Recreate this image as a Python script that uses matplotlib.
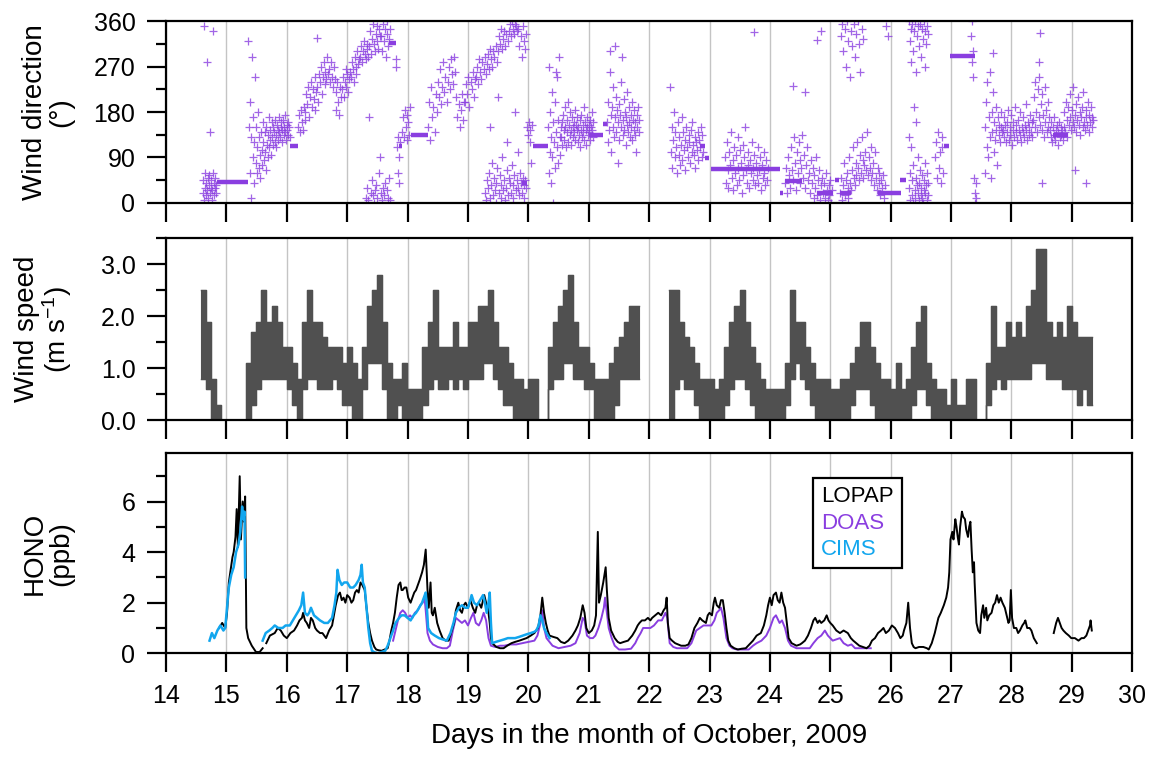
import numpy as np
import matplotlib
matplotlib.use("Agg")
import matplotlib.pyplot as plt
from matplotlib.ticker import MultipleLocator

plt.rcParams['font.family'] = ['Liberation Sans', 'DejaVu Sans']
plt.rcParams['mathtext.fontset'] = 'custom'
plt.rcParams['mathtext.rm'] = 'Liberation Sans'
plt.rcParams['mathtext.default'] = 'regular'

PURPLE = '#8a3ee0'
BLUE = '#12a6ee'
GREY = '#505050'

# ---------------- wind direction (deg), scatter segments: (start day, end day, values)
wd_a = [20, 45, 5, 350, 30, 60, 15, 40, 280, 25, 50, 10, 35, 55, 20, 140, 30, 45, 5, 25,
        60, 340, 15, 40, 30, 50, 20, 35]
wd_b = [320, 150, 60, 200, 10, 130, 290, 90, 170, 40, 120, 250, 80, 150, 60, 110, 180, 70, 130, 95,
        50, 140, 105, 75, 160, 120, 85, 140, 100, 65, 150, 115, 90, 135, 170, 110, 125, 145, 95, 160,
        130, 115, 150, 140, 120, 165, 135, 110, 155, 145, 125, 170, 140, 130, 160, 150, 120, 145, 165, 135,
        150, 175, 140, 125, 155, 145, 160, 135, 150, 130]
wd_c = [150, 175, 140, 185, 160, 145, 190, 165,
        180, 215, 195, 230, 170, 210, 240, 190, 225, 205, 250, 185, 220,
        230, 200, 255, 240, 270, 215, 250, 280, 235, 260, 245, 290, 255,
        265, 240, 280, 250, 230, 270, 245,
        220, 185, 240, 200, 175, 230, 210,
        225, 250, 210, 240, 265, 230, 255, 220, 245, 260,
        250, 280, 265, 240, 290, 270, 255, 300, 275, 285,
        290, 310, 280, 300, 320, 295, 285, 315, 305, 290,
        310, 340, 295, 325, 355, 315, 300, 335, 350, 320, 305, 345, 330,
        330, 300, 355, 320, 345, 290, 335, 360, 310, 325, 345]
wd_w1 = [10, 30, 5, 170, 20, 45, 15, 0, 25, 35, 10, 60, 90, 20, 5, 30, 15, 40, 25, 10, 50, 5]
wd_d = [270, 285, 110, 60, 130, 40, 90, 120]
wd_e = [140, 170, 130, 185, 150, 125, 175, 160, 135, 190]
wd_f = [150, 200, 125, 230, 170, 190, 140, 215,
        180, 240, 210, 265, 195, 230, 280, 220, 250, 200,
        240, 270, 225, 285, 255, 235, 290, 260,
        210, 170, 195, 150, 185, 215, 165, 200,
        200, 235, 215, 250, 190, 240, 225, 260, 210, 245,
        250, 270, 235, 285, 260, 245, 280, 265, 290, 255,
        275, 295, 265, 305, 285, 270, 300, 290, 310, 280,
        300, 330, 315, 345, 305, 325, 340, 310, 335, 320,
        340, 355, 330, 360, 345, 335, 355, 350, 340,
        345, 310, 330, 290, 350, 320, 305, 335]
wd_w2 = [20, 5, 45, 30, 60, 150, 10, 35, 80, 15, 50, 25, 0, 40, 70, 210, 20, 55, 10, 35,
         90, 25, 45, 5, 30, 65, 120, 15, 50, 40, 20, 75, 10, 35, 55, 180, 25, 45, 100, 30,
         15, 60, 40, 20, 50, 35, 10, 45, 30]
wd_g = [150, 135, 160, 120, 145, 80, 155]
wd_h = [150, 60, 270, 100, 180, 40, 130, 220, 90, 160, 0, 120, 200, 70, 140, 260, 110, 250,
        80, 165, 290, 130, 95, 150]
wd_i = [130, 160, 115, 175, 145, 125, 190, 150, 110, 165, 140, 200, 120, 155, 135, 180, 145, 115,
        170, 150, 130, 160, 140, 185, 125, 155, 145, 170, 120, 150, 135, 165, 110, 145, 175, 130,
        155, 140, 190, 125, 160, 145, 115, 150, 170, 135, 155, 140, 165, 125, 150, 180, 145, 130, 160]
wd_j = [160, 120, 200, 145, 260, 300, 175, 100, 190, 150, 230, 130, 170, 310, 210, 140, 185, 80,
        160, 195, 125, 175, 150, 240, 290, 135, 165, 205, 145, 180, 115, 170, 155, 220, 140, 190,
        160, 130, 175, 150, 200, 125, 165, 145, 185, 135, 160, 100, 175, 150, 190, 140, 165]
wd_k = [230, 100, 150, 70, 125, 180, 90, 140, 110, 60, 160, 95, 130, 75, 115, 170, 85, 140,
        105, 125, 65, 150, 110, 90, 135, 120, 80, 145, 100, 160, 115, 95, 130, 70, 120, 105,
        140, 85, 125, 110, 150, 90, 135, 100]
wd_l = [90, 40, 120, 65, 30, 100, 75, 140, 50, 85, 25, 110, 60, 95, 35, 130, 70, 45, 105, 80,
        20, 115, 55, 90, 150, 65, 40, 100, 75, 30, 85, 60, 120, 45, 70, 95, 35, 80, 55, 110,
        40, 65, 90, 25, 75, 50, 100, 60, 35, 85, 45, 70]
wd_m = [40, 70, 20, 90, 55, 30, 110, 65, 45, 130, 80, 25, 100, 60, 120, 40, 85, 70, 135, 50,
        95, 30, 75, 110, 45, 60, 20, 85, 40, 70, 10, 55, 30, 90, 15, 45, 65, 5, 35, 50,
        20, 40, 10, 60, 25, 5, 35, 15, 45, 0, 25]
wd_n = [20, 50, 5, 35, 80, 15, 45, 60, 10, 30, 90, 40, 25, 65, 110, 50, 35, 80, 55, 120,
        70, 45, 95, 60, 130, 85, 50, 75, 100, 65, 140, 55, 90, 70, 45, 110, 60, 80, 35, 100,
        50, 25, 70, 40, 60, 15, 45, 30, 55, 10, 35]
wd_u1 = [330, 355, 300, 345, 270, 360, 320, 250, 340, 310, 355, 290, 335, 360, 315, 260, 345, 325]
wd_o = [30, 130, 5, 60, 110, 15, 45, 0, 75, 190, 25, 10, 50, 160, 35, 90, 20, 5, 40, 65,
        15, 30, 55, 10, 0, 45, 25, 80, 20, 35, 5, 60, 15, 40]
wd_u2 = [360, 320, 345, 280, 355, 300, 340, 360, 260, 330, 350, 310, 355, 290, 345, 325,
         360, 270, 340, 315, 350, 335]
wd_p = [90, 120, 50, 140, 70, 100, 40, 130, 110, 60]
wd_q = [330, 280, 360, 250, 300, 50, 20, 0, 40, 10]
wd_r = [150, 60, 200, 110, 240, 90, 170, 130, 260, 50, 180, 140, 220, 100, 160, 125, 190, 145,
        75, 170, 135, 155, 120, 180, 150, 140]
wd_s = [145, 170, 130, 155, 120, 160, 140, 185, 125, 150, 135, 175, 115, 145, 160, 130, 190, 140,
        155, 125, 165, 145, 135, 180, 120, 150, 140, 170, 130, 155, 145, 195, 125, 160, 135, 150,
        175, 140, 160, 130,
        165, 210, 150, 240, 180, 140, 225, 170, 250, 155, 195, 145, 215, 175, 130, 230, 160, 185,
        140, 200, 150, 170,
        145, 130, 160, 120, 150, 135, 170, 125, 145, 155, 115, 140, 160, 130, 150, 135, 145, 125,
        150, 180, 140, 200, 165, 130, 190, 155, 215, 170, 145, 185, 160, 230, 150, 175, 140, 195,
        165, 210, 155, 180, 135, 170, 190, 150, 220, 160, 145, 185, 170, 155, 200, 140, 175, 160,
        190, 150, 170, 165]

wd_segments = [
    (14.60, 14.84, wd_a), (15.36, 16.05, wd_b), (16.18, 17.72, wd_c), (17.30, 17.72, wd_w1),
    (17.80, 17.88, wd_d), (17.90, 18.05, wd_e), (18.33, 19.97, wd_f), (19.28, 19.97, wd_w2),
    (19.97, 20.07, wd_g), (20.32, 20.54, wd_h), (20.54, 21.08, wd_i), (21.30, 21.84, wd_j),
    (22.34, 22.90, wd_k), (23.25, 23.97, wd_l), (24.25, 25.04, wd_m), (25.16, 25.91, wd_n),
    (25.16, 25.55, wd_u1), (26.29, 26.63, wd_o), (26.29, 26.63, wd_u2), (26.73, 26.88, wd_p),
    (27.33, 27.42, wd_q), (27.55, 27.85, wd_r), (27.85, 29.36, wd_s),
]
# isolated points (day, deg)
wd_extra_t = [16.50, 23.73, 24.38, 24.58, 24.78, 24.85, 25.92, 25.95, 28.48, 28.45, 28.50, 29.05, 29.24, 27.70]
wd_extra_v = [327, 338, 232, 220, 322, 340, 350, 330, 337, 280, 40, 65, 39, 297]
# constant runs drawn as thick bars (start day, end day, deg)
wd_bars = [(14.84, 15.36, 42), (16.05, 16.18, 112), (17.70, 17.80, 316), (17.85, 17.90, 112),
           (18.05, 18.33, 135), (19.90, 19.97, 40), (20.07, 20.32, 112), (21.00, 21.24, 135),
           (21.24, 21.30, 157), (22.84, 22.92, 112), (22.92, 22.99, 89), (23.03, 24.16, 67),
           (24.16, 24.22, 20), (24.25, 24.53, 44), (24.78, 25.05, 20), (25.08, 25.15, 45),
           (25.16, 25.35, 20), (25.79, 26.17, 20), (26.16, 26.25, 45), (26.88, 26.97, 112),
           (26.99, 27.39, 292), (28.68, 28.93, 135)]

# ---------------- wind speed (m/s), 2-hourly low/high envelope of the 10-min data
ws1_start = 14.58
ws1_lo = [0.8, 0.6, 0.0, 0.0, 0.0, 0.0, 0.0, 0.0, 0.0,
          0.0, 0.3, 0.6, 0.8, 0.8, 0.8, 0.8, 0.8, 0.6, 0.3, 0.0, 0.6, 0.8, 0.8, 0.6, 0.6,
          0.6, 0.8, 0.6, 0.3, 0.3, 0.0, 0.0, 0.6, 1.1, 1.1, 1.1, 0.6, 0.0, 0.0, 0.3, 0.0,
          0.0, 0.0, 0.0, 0.3, 0.6, 0.8, 0.6, 0.6, 0.8, 0.6, 0.8, 0.6, 0.8, 0.8, 0.8, 1.1,
          1.1, 0.8, 0.6, 0.3, 0.3, 0.0, 0.0, 0.0, 0.0, 0.0, 0.0, 0.0, 0.6, 0.8, 0.8, 1.1,
          1.1, 0.8, 0.8, 0.6, 0.6, 0.0, 0.0, 0.0, 0.0, 0.3, 0.8, 0.8, 0.8, 0.8]
ws1_hi = [2.5, 1.9, 0.8, 0.3, 0.0, 0.0, 0.0, 0.0, 0.0,
          1.1, 1.7, 1.9, 2.5, 1.9, 2.2, 1.9, 1.4, 1.4, 1.1, 0.8, 1.9, 2.5, 1.9, 1.9, 1.6,
          1.4, 1.4, 1.4, 1.1, 1.4, 1.1, 0.8, 1.4, 2.2, 2.5, 2.8, 1.9, 1.1, 0.8, 0.8, 1.1,
          0.6, 0.6, 0.6, 1.4, 1.9, 2.5, 1.4, 1.4, 1.4, 1.9, 1.4, 1.4, 1.9, 1.9, 2.2, 2.2,
          2.5, 1.9, 1.4, 1.4, 1.1, 0.8, 0.8, 0.6, 0.8, 0.8, 0.0, 0.0, 1.4, 1.9, 2.2, 2.5,
          2.8, 1.9, 1.4, 1.4, 1.1, 0.8, 0.8, 0.8, 1.1, 1.4, 1.6, 1.9, 2.2, 2.2]
ws2_start = 22.33
ws2_lo = [0.0, 0.6, 0.8, 0.6, 0.6, 0.3, 0.0, 0.0, 0.0, 0.0, 0.0, 0.3, 0.6, 0.8, 0.8, 0.6,
          0.3, 0.0, 0.0, 0.0, 0.0, 0.0, 0.0, 0.3, 0.8, 1.1, 0.8, 0.6, 0.3, 0.0, 0.0, 0.0,
          0.0, 0.0, 0.0, 0.0, 0.3, 0.6, 0.6, 0.6, 0.3, 0.0, 0.0, 0.0, 0.0, 0.0, 0.0, 0.0,
          0.3, 0.6, 0.6, 0.3, 0.0, 0.0, 0.0, 0.0, 0.0, 0.0, 0.0, 0.0, 0.0, 0.0, 0.0, 0.3,
          0.6, 0.8, 0.6, 0.8, 0.8, 0.8, 0.8, 0.8, 1.1, 1.1, 1.1, 0.8, 0.8, 0.8, 0.6, 0.6,
          0.6, 0.3, 0.6, 0.3]
ws2_hi = [2.5, 2.5, 1.9, 1.6, 1.4, 1.1, 0.8, 0.8, 0.8, 0.6, 0.8, 1.4, 1.9, 2.2, 2.5, 1.9,
          1.4, 1.1, 0.8, 0.6, 0.6, 0.6, 0.6, 1.1, 2.5, 1.9, 1.9, 1.4, 1.1, 0.8, 0.8, 0.8,
          0.6, 0.6, 0.8, 0.8, 1.1, 1.4, 1.9, 1.9, 1.4, 1.1, 0.8, 0.8, 0.6, 1.1, 0.6, 0.8,
          1.4, 1.9, 2.2, 1.1, 0.8, 0.6, 0.6, 0.3, 0.8, 0.3, 0.3, 0.8, 0.8, 0.0, 0.0, 1.1,
          2.2, 1.4, 1.4, 1.9, 1.6, 1.9, 1.6, 2.2, 2.5, 3.3, 3.3, 1.9, 1.6, 1.9, 1.6, 2.2,
          1.9, 1.6, 1.6, 1.6]

# ---------------- HONO (ppb)
lopap_t = [14.88, 14.93, 14.98, 15.01, 15.04, 15.07, 15.10, 15.12, 15.15, 15.17, 15.19, 15.22, 15.24,
           15.27, 15.29, 15.31, 15.33, 15.36, 15.42, 15.49, 15.55, 15.60, np.nan,
           15.66, 15.72, 15.80, 15.85, 15.90, 15.95, 16.00, 16.06, 16.12, 16.17, 16.21, 16.25, 16.27,
           16.30, 16.33, 16.37, 16.40, 16.43, 16.47, 16.50, 16.55, 16.59, 16.62, 16.65, 16.70, 16.75,
           16.78, 16.81, 16.85, 16.88, 16.91, 16.94, 16.97, 17.00, 17.04, 17.07, 17.10, 17.13, 17.16,
           17.19, 17.22, 17.25, 17.29, 17.32, 17.35, 17.38, 17.41, 17.45, 17.48, 17.52, 17.57, 17.62,
           17.67, 17.70, 17.73, 17.76, 17.79, 17.82, 17.85, 17.88, 17.90, 17.92, 17.95, 17.98, 18.01,
           18.05, 18.08, 18.11, 18.14, 18.17, 18.20, 18.24, 18.27, 18.30, 18.32, 18.33, 18.35, 18.38,
           18.40, 18.42, 18.45, 18.49, 18.53, 18.58, 18.63, 18.68, 18.72, 18.77, 18.80, 18.84, 18.87,
           18.90, 18.93, 18.96, 19.00, 19.04, 19.08, 19.12, 19.15, 19.18, 19.22, 19.25, 19.27, 19.30,
           19.33, 19.36, 19.38, 19.40, 19.47, 19.53, 19.59, 19.65, 19.72, 19.78, 19.85, 19.91, 19.97,
           20.04, 20.10, 20.16, 20.20, 20.23, 20.26, 20.29, 20.32, 20.35, 20.41, 20.48, 20.54, 20.60,
           20.66, 20.73, 20.78, 20.82, 20.86, 20.90, 20.93, 20.96, 21.00, 21.05, 21.09, 21.12, 21.15,
           21.17, 21.20, 21.24, 21.28, 21.30, 21.33, 21.37, 21.43, 21.48, 21.52, 21.58, 21.65, 21.72,
           21.77, 21.81, 21.84, 21.88, 21.93, 21.98, 22.02, 22.05, 22.10, 22.15, 22.20, 22.24, 22.27,
           22.29, 22.31, 22.34, 22.38, 22.43, 22.48, 22.53, 22.60, 22.65, 22.70, 22.75, 22.80, 22.84,
           22.88, 22.94, 22.97, 23.00, 23.04, 23.07, 23.09, 23.12, 23.16, 23.19, 23.22, 23.25, 23.28,
           23.31, 23.35, 23.41, 23.47, 23.53, 23.60, 23.66, 23.72, 23.78, 23.85, 23.90, 23.94, 23.97,
           24.00, 24.03, 24.06, 24.10, 24.13, 24.16, 24.19, 24.22, 24.25, 24.28, 24.31, 24.36, 24.44,
           24.50, 24.53, 24.58, 24.63, 24.68, 24.72, 24.75, 24.79, 24.82, 24.85, 24.90, 24.94, 24.97,
           25.00, 25.04, 25.10, 25.16, 25.22, 25.29, 25.34, 25.38, 25.43, 25.48, 25.54, 25.60, 25.65,
           25.69, 25.74, 25.79, 25.84, 25.88, 25.92, 25.97, 26.02, 26.07, 26.12, 26.16, 26.20, 26.22,
           26.26, 26.29, 26.32, 26.35, 26.38, 26.41, 26.47, 26.54, 26.60, 26.63, 26.68, 26.73, 26.76,
           26.79, 26.83, 26.88, 26.92, 26.95, 26.97, 26.99, 27.02, 27.04, 27.07, 27.09, 27.11, 27.13,
           27.15, 27.18, 27.20, 27.23, 27.25, 27.28, 27.30, 27.32, 27.34, 27.36, 27.38, 27.39, 27.42,
           27.45, 27.48, 27.50, 27.53, 27.55, 27.58, 27.60, 27.63, 27.67, 27.70, 27.73, 27.76, 27.79,
           27.82, 27.85, 27.89, 27.92, 27.95, 27.97, 27.99, 28.01, 28.04, 28.08, 28.11, 28.14, 28.18,
           28.21, 28.23, 28.26, 28.30, 28.33, 28.37, 28.42, np.nan,
           28.70, 28.74, 28.77, 28.80, 28.83, 28.86, 28.90, 28.95, 28.99, 29.05, 29.11, 29.16, 29.20,
           29.24, 29.27, 29.30, 29.31, 29.33]
lopap_v = [1.0, 1.2, 1.0, 1.6, 2.8, 3.3, 3.8, 4.0, 4.6, 5.7, 4.2, 7.0, 4.5,
           6.0, 5.2, 6.2, 1.0, 0.6, 0.3, 0.05, 0.05, 0.2, np.nan,
           0.4, 0.7, 0.8, 1.0, 0.9, 0.7, 0.6, 0.8, 0.9, 1.1, 1.3, 1.4, 1.6,
           1.3, 1.2, 1.0, 1.4, 1.3, 1.0, 0.9, 0.8, 0.8, 0.7, 0.6, 0.9, 1.1,
           1.5, 1.9, 2.3, 2.4, 2.1, 2.2, 2.0, 2.3, 2.2, 2.0, 2.1, 2.4, 2.5,
           2.4, 2.8, 2.7, 2.5, 1.8, 1.2, 0.8, 0.5, 0.25, 0.15, 0.12, 0.1, 0.15,
           0.2, 0.5, 0.9, 1.2, 1.6, 2.2, 2.7, 2.8, 2.5, 2.5, 2.6, 2.6, 2.2,
           2.0, 2.2, 2.4, 2.5, 2.7, 2.9, 3.2, 3.5, 4.1, 3.0, 2.5, 1.8, 2.8,
           1.6, 1.5, 1.8, 1.2, 0.9, 0.6, 0.5, 0.5, 0.8, 1.2, 1.7, 2.0, 1.7,
           1.6, 1.9, 2.0, 1.8, 2.1, 1.8, 1.6, 1.9, 2.0, 1.8, 2.1, 2.3, 2.0,
           1.8, 1.2, 0.6, 0.4, 0.25, 0.2, 0.2, 0.3, 0.4, 0.45, 0.5, 0.55, 0.6,
           0.7, 0.8, 1.0, 1.5, 2.2, 1.6, 1.2, 0.9, 0.7, 0.65, 0.6, 0.45, 0.4,
           0.5, 0.7, 0.9, 1.1, 1.4, 1.9, 1.6, 1.0, 0.8, 0.9, 1.1, 1.5, 4.8,
           2.0, 2.3, 2.8, 3.4, 2.5, 1.4, 0.9, 0.6, 0.45, 0.4, 0.45, 0.5, 0.7,
           0.9, 1.1, 1.2, 1.3, 1.3, 1.4, 1.3, 1.4, 1.5, 1.6, 1.5, 1.7, 1.8,
           2.2, 1.2, 0.6, 0.5, 0.4, 0.35, 0.3, 0.3, 0.35, 0.6, 1.0, 1.2, 1.4,
           1.3, 1.2, 1.5, 1.6, 1.5, 2.0, 2.2, 1.9, 1.8, 2.1, 2.1, 1.6, 1.0,
           0.5, 0.3, 0.2, 0.15, 0.18, 0.2, 0.35, 0.5, 0.7, 0.8, 1.1, 1.5, 1.9,
           2.2, 1.9, 2.3, 2.4, 2.1, 2.0, 2.4, 2.0, 1.8, 1.2, 0.6, 0.4, 0.3,
           0.35, 0.4, 0.5, 0.7, 1.0, 1.3, 1.4, 1.2, 1.3, 1.2, 1.3, 1.5, 1.3,
           1.2, 1.1, 0.9, 0.8, 0.9, 0.8, 0.6, 0.5, 0.4, 0.3, 0.25, 0.2, 0.3,
           0.5, 0.6, 0.8, 0.9, 1.0, 0.8, 0.9, 1.1, 1.0, 0.8, 0.6, 0.7, 0.9,
           1.2, 2.0, 1.0, 0.4, 0.25, 0.2, 0.25, 0.25, 0.2, 0.15, 0.4, 0.8, 1.1,
           1.4, 1.6, 1.9, 2.2, 2.6, 3.2, 4.5, 4.8, 4.5, 5.3, 5.0, 4.6, 4.3,
           5.0, 5.6, 5.4, 5.3, 4.9, 4.6, 5.0, 5.2, 4.1, 3.2, 3.6, 2.8, 1.2,
           0.9, 0.8, 1.5, 1.9, 1.4, 1.8, 1.3, 1.5, 1.6, 1.9, 2.0, 2.3, 2.0,
           2.2, 2.0, 1.8, 1.5, 1.2, 1.3, 2.5, 1.4, 1.0, 1.0, 0.8, 0.9, 1.1,
           1.2, 1.3, 1.0, 1.0, 0.9, 0.6, 0.4, np.nan,
           0.8, 1.2, 1.4, 1.2, 1.0, 0.9, 0.8, 0.7, 0.6, 0.6, 0.5, 0.6, 0.6,
           0.7, 0.9, 1.1, 1.3, 0.9]

doas_t = [17.76, 17.80, 17.84, 17.88, 17.92, 17.96, 18.00, 18.04, 18.08, 18.12, 18.17, 18.21, 18.25,
          18.28, 18.30, 18.33, 18.37, 18.42, 18.50, 18.58, 18.65, 18.70, 18.75, 18.80, 18.85, 18.90,
          18.95, 19.00, 19.05, 19.09, 19.13, 19.18, 19.22, 19.26, 19.30, 19.34, 19.38, 19.45, 19.53,
          19.60, 19.70, 19.80, 19.90, 20.00, 20.10, 20.15, 20.20, 20.23, 20.26, 20.30, 20.35, 20.40,
          20.50, 20.60, 20.70, 20.78, 20.85, 20.90, 20.93, 20.97, 21.02, 21.07, 21.11, 21.16, 21.21,
          21.25, 21.27, 21.29, 21.33, 21.38, 21.43, 21.50, 21.60, 21.70, 21.77, 21.81, 21.86, 21.90,
          21.96, 22.02, 22.08, 22.15, 22.21, 22.27, 22.30, 22.34, 22.40, 22.46, 22.55, 22.63, 22.70,
          22.78, 22.84, 22.90, 22.96, 23.03, 23.08, 23.12, 23.16, 23.19, 23.23, 23.28, 23.33, 23.38,
          23.45, 23.55, 23.65, 23.72, 23.78, 23.86, 23.94, 24.00, 24.06, 24.10, 24.16, 24.20, 24.25,
          24.30, 24.35, 24.44, 24.55, 24.66, 24.72, 24.79, 24.85, 24.91, 24.96, 25.04, 25.10, 25.16,
          25.22, 25.29, 25.35, 25.41, 25.50, 25.60, 25.67]
doas_v = [0.5, 0.9, 1.3, 1.6, 1.7, 1.6, 1.4, 1.5, 1.4, 1.6, 1.7, 1.9, 2.0,
          2.2, 1.7, 0.8, 0.5, 0.35, 0.25, 0.2, 0.2, 0.3, 0.9, 1.4, 1.3, 1.2,
          1.3, 1.1, 1.4, 1.6, 1.2, 1.1, 1.3, 1.6, 1.3, 0.6, 0.3, 0.25, 0.3,
          0.3, 0.35, 0.35, 0.4, 0.45, 0.5, 0.7, 1.2, 1.7, 1.0, 0.6, 0.45, 0.3,
          0.2, 0.25, 0.3, 0.4, 0.8, 1.4, 1.3, 0.7, 0.6, 0.6, 0.7, 1.0, 1.4,
          1.8, 2.2, 1.8, 1.0, 0.6, 0.3, 0.15, 0.15, 0.18, 0.4, 0.6, 0.8, 1.0,
          1.0, 1.0, 1.1, 1.3, 1.3, 1.6, 1.4, 0.4, 0.25, 0.2, 0.2, 0.2, 0.4,
          0.9, 1.0, 1.1, 1.1, 1.1, 1.3, 1.6, 1.7, 1.8, 1.4, 0.6, 0.3, 0.2,
          0.15, 0.15, 0.15, 0.3, 0.4, 0.5, 0.7, 1.0, 1.4, 1.5, 1.2, 1.3, 1.0,
          0.5, 0.3, 0.2, 0.2, 0.2, 0.4, 0.6, 0.7, 0.9, 0.7, 0.5, 0.55, 0.6,
          0.4, 0.3, 0.35, 0.2, 0.2, 0.2, 0.2]

cims_t = [14.72, 14.76, 14.80, 14.85, 14.90, 14.95, 14.98, 15.01, 15.04, 15.08, 15.12, 15.16, 15.20,
          15.23, 15.26, 15.28, 15.30, 15.31, np.nan,
          15.60, 15.65, 15.71, 15.76, 15.80, 15.86, 15.93, 15.98, 16.05, 16.10, 16.15, 16.20, 16.24,
          16.27, 16.30, 16.34, 16.37, 16.40, 16.45, 16.50, 16.55, 16.62, 16.68, 16.75, 16.79, 16.82,
          16.84, 16.87, 16.91, 16.95, 17.00, 17.05, 17.10, 17.14, 17.19, 17.22, 17.24, 17.26, 17.29,
          17.32, 17.35, 17.38, 17.41, 17.46, 17.51, 17.57, 17.63, 17.67, 17.70, 17.73, 17.76, 17.80,
          17.83, 17.86, 17.90, 17.95, 18.00, 18.05, 18.10, 18.14, 18.19, 18.24, 18.27, 18.30, 18.32,
          18.34, 18.39, 18.45, 18.52, 18.58, 18.65, 18.71, 18.76, 18.80, 18.85, 18.90, 18.95, 19.00,
          19.04, 19.06, 19.10, 19.15, 19.20, 19.25, 19.28, 19.31, 19.34, 19.36, 19.38, 19.40, 19.46,
          19.53, 19.60, 19.66, 19.72, 19.78, 19.85, 19.91, 19.97, 20.04, 20.10, 20.13, 20.17, 20.20,
          20.23, 20.26, 20.30, 20.35]
cims_v = [0.5, 0.8, 0.6, 0.9, 1.1, 0.9, 1.0, 1.8, 2.6, 3.1, 3.4, 4.0, 4.3,
          4.8, 5.8, 5.3, 5.6, 3.0, np.nan,
          0.5, 0.8, 0.9, 1.0, 1.1, 1.0, 1.0, 1.1, 1.1, 1.3, 1.5, 1.7, 1.9,
          2.4, 1.6, 1.5, 1.6, 1.8, 1.5, 1.4, 1.3, 1.2, 1.2, 1.4, 1.9, 2.4,
          3.3, 2.9, 2.7, 2.8, 2.8, 2.6, 2.6, 2.7, 2.9, 3.1, 3.5, 2.8, 2.6,
          1.8, 1.0, 0.4, 0.1, 0.03, 0.0, 0.05, 0.1, 0.3, 0.5, 0.7, 0.9, 1.2,
          1.3, 1.4, 1.5, 1.5, 1.4, 1.3, 1.5, 1.6, 1.8, 2.0, 2.2, 2.4, 1.8,
          1.0, 0.8, 0.7, 0.6, 0.55, 0.5, 0.8, 1.2, 1.6, 1.8, 1.9, 1.8, 1.8,
          2.1, 2.3, 2.0, 1.9, 2.1, 2.3, 2.0, 1.6, 2.0, 2.4, 1.2, 0.4, 0.45,
          0.5, 0.55, 0.6, 0.6, 0.6, 0.65, 0.7, 0.75, 0.8, 0.85, 0.9, 1.1, 1.5,
          1.3, 1.0, 0.8, 0.6]

# ---------------- figure
fig = plt.figure(figsize=(11.53, 7.57), dpi=100)
left, width = 0.144, 0.838
ax1 = fig.add_axes([left, 0.732, width, 0.240])
ax2 = fig.add_axes([left, 0.445, width, 0.240])
ax3 = fig.add_axes([left, 0.137, width, 0.264])

TICK_FS = 18
LABEL_FS = 20

for ax in (ax1, ax2, ax3):
    ax.set_xlim(14, 30)
    ax.xaxis.set_major_locator(MultipleLocator(1))
    ax.grid(axis='x', color='#c4c4c4', lw=1.0, zorder=0)
    ax.set_axisbelow(True)
    for sp in ax.spines.values():
        sp.set_linewidth(1.6)
    ax.tick_params(which='major', direction='out', length=14, width=1.6, labelsize=TICK_FS, pad=8)
    ax.tick_params(which='minor', direction='out', length=7, width=1.6)
    ax.tick_params(top=False, right=False)

# wind direction
for t0, t1, vals in wd_segments:
    n = len(vals)
    tt = t0 + (np.arange(n) + 0.5) * (t1 - t0) / n
    ax1.plot(tt, vals, ls='none', marker='+', ms=5.5, mew=0.9, color=PURPLE, alpha=0.8)
ax1.plot(wd_extra_t, wd_extra_v, ls='none', marker='+', ms=5.5, mew=0.9, color=PURPLE, alpha=0.8)
for t0, t1, v in wd_bars:
    ax1.plot([t0, t1], [v, v], color=PURPLE, lw=3.2, solid_capstyle='butt')
ax1.set_ylim(0, 360)
ax1.yaxis.set_major_locator(MultipleLocator(90))
ax1.yaxis.set_minor_locator(MultipleLocator(45))
ax1.tick_params(labelbottom=False)
ax1.set_ylabel('Wind direction\n(°)', fontsize=LABEL_FS, linespacing=1.0)

# wind speed
for start, lo, hi in [(ws1_start, ws1_lo, ws1_hi), (ws2_start, ws2_lo, ws2_hi)]:
    tt = start + np.arange(len(lo) + 1) / 12.0
    lo_e = list(lo) + [lo[-1]]
    hi_e = list(hi) + [hi[-1]]
    ax2.fill_between(tt, lo_e, hi_e, step='post', color=GREY, lw=0.8, edgecolor=GREY)
    ax2.step(tt, hi_e, where='post', color=GREY, lw=1.0)
    ax2.step(tt, lo_e, where='post', color=GREY, lw=1.0)
ax2.set_ylim(0, 3.5)
ax2.yaxis.set_major_locator(MultipleLocator(1.0))
ax2.yaxis.set_minor_locator(MultipleLocator(0.5))
ax2.yaxis.set_major_formatter(plt.FormatStrFormatter('%.1f'))
ax2.tick_params(labelbottom=False)
ax2.set_ylabel('Wind speed\n(m s$^{-1}$)', fontsize=LABEL_FS, linespacing=1.0)

# HONO
ax3.plot(doas_t, doas_v, color=PURPLE, lw=1.4, label='DOAS')
ax3.plot(lopap_t, lopap_v, color='black', lw=1.4, label='LOPAP')
ax3.plot(cims_t, cims_v, color=BLUE, lw=1.8, label='CIMS')
ax3.set_ylim(0, 7.9)
ax3.yaxis.set_major_locator(MultipleLocator(2))
ax3.yaxis.set_minor_locator(MultipleLocator(1))
ax3.set_ylabel('HONO\n(ppb)', fontsize=LABEL_FS, linespacing=1.0)
ax3.set_xlabel('Days in the month of October, 2009', fontsize=LABEL_FS, labelpad=11)

handles, labels = ax3.get_legend_handles_labels()
order = [labels.index('LOPAP'), labels.index('DOAS'), labels.index('CIMS')]
leg = ax3.legend([handles[i] for i in order], [labels[i] for i in order],
                 loc='upper left', bbox_to_anchor=(0.67, 0.875), borderaxespad=0,
                 handlelength=0, handletextpad=0, labelcolor='linecolor',
                 fontsize=16, frameon=True, fancybox=False, framealpha=1,
                 edgecolor='black', labelspacing=0.25, borderpad=0.35)
leg.get_frame().set_linewidth(1.6)
for h in leg.legend_handles:
    h.set_visible(False)

for ax in (ax1, ax2, ax3):
    ax.yaxis.set_label_coords(-0.095, 0.5)

fig.savefig('out.png', dpi=100)
